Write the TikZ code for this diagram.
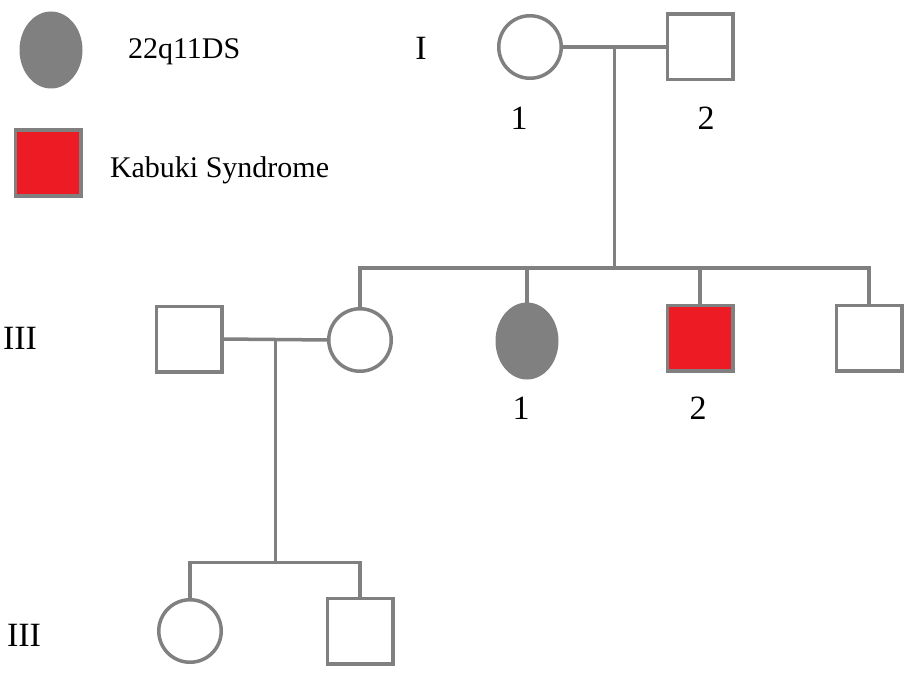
\documentclass[tikz,border=0pt]{standalone}
\usepackage{fontspec}
\setmainfont{Liberation Serif}
\usetikzlibrary{shapes.geometric,calc}
\definecolor{pedgray}{RGB}{128,128,128}
\definecolor{pedred}{RGB}{237,28,36}
\begin{document}
\begin{tikzpicture}[x=1pt,y=-1pt,
  line width=3.5pt,
  every node/.style={inner sep=0pt,outer sep=0pt},
  female/.style={circle,draw=pedgray,fill=white,minimum size=62.5pt},
  male/.style={rectangle,draw=pedgray,fill=white,minimum size=65.5pt},
  affgray/.style={ellipse,fill=pedgray,minimum width=63pt,minimum height=77pt},
  affred/.style={rectangle,draw=pedgray,fill=pedred,minimum size=65.5pt},
  link/.style={draw=pedgray,line width=3.5pt},
  lbl/.style={font=\fontsize{34}{40}\selectfont,text=black,anchor=base},
  legtxt/.style={font=\fontsize{30}{36}\selectfont,text=black,anchor=base west}]
  \useasboundingbox (0,0) rectangle (906,677);

  % legend
  \node[affgray] (legA) at (51,50) {};
  \node[legtxt] (legAt) at (128,59) {22q11DS};
  \node[affred] (legB) at (48,163) {};
  \node[legtxt] (legBt) at (110,177) {Kabuki Syndrome};

  % generation labels
  \node[lbl] (genI) at (421,60) {I};
  \node[lbl] (genII) at (20,349) {III};
  \node[lbl] (genIII) at (24,646) {III};

  % generation I
  \node[female] (I1) at (530,47) {};
  \node[male] (I2) at (700,47) {};
  \node[lbl] (I1n) at (519,129) {1};
  \node[lbl] (I2n) at (706,129) {2};

  % generation II
  \node[male] (H) at (189,339) {};
  \node[female] (W) at (360,340) {};
  \node[affgray] (II1) at (527,341) {};
  \node[affred] (II2) at (700,338) {};
  \node[male] (II3) at (869,338) {};
  \node[lbl] (II1n) at (521,419) {1};
  \node[lbl] (II2n) at (698,419) {2};

  % generation III
  \node[female] (III1) at (190,631) {};
  \node[male] (III2) at (360,631) {};

  % marriage and descent lines
  \draw[link] (I1.east) -- (I2.west);
  \coordinate (mI) at ($(I1.east)!0.5!(I2.west)$);
  \coordinate (sI) at ($(mI)+(0,221)$);
  \draw[link] (mI) -- (sI);
  \draw[link] (W.north) |- (sI) -| (II3.north);
  \draw[link] (II1.north) -- (II1.north |- sI);
  \draw[link] (II2.north) -- (II2.north |- sI);

  \draw[link] (H.east) -- (W.west);
  \coordinate (mII) at ($(H.east)!0.5!(W.west)$);
  \coordinate (sII) at ($(mII)+(0,223)$);
  \draw[link] (mII) -- (sII);
  \draw[link] (III1.north) |- (sII) -| (III2.north);
\end{tikzpicture}
\end{document}
